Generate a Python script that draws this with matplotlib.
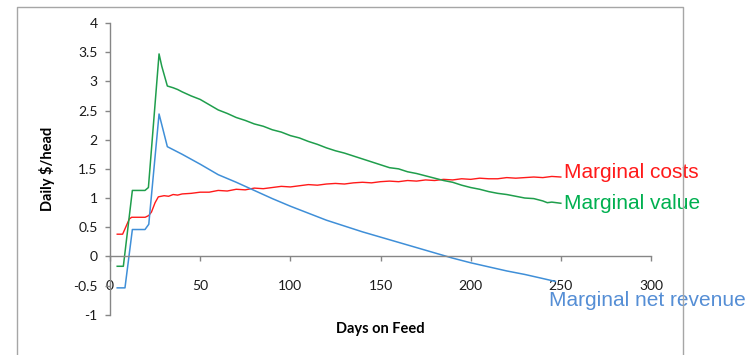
import matplotlib
matplotlib.use('Agg')
import matplotlib.pyplot as plt
from matplotlib.lines import Line2D
from matplotlib.ticker import FuncFormatter

plt.rcParams['font.family'] = ['Lato', 'DejaVu Sans']

# ── data ─────────────────────────────────────────────────────────────────────
cost_days = [4, 7, 10.7, 12, 19.5, 21.5, 23, 25, 26.8, 30, 32.5, 35, 37.5, 40, 45, 50,
             55, 60, 65, 70, 75, 80, 85, 90, 95, 100, 105, 110, 115, 120, 125,
             130, 135, 140, 145, 150, 155, 160, 165, 170, 175, 180, 185, 190,
             195, 200, 205, 210, 215, 220, 225, 230, 235, 240, 245, 250]
cost_vals = [0.38, 0.38, 0.64, 0.67, 0.67, 0.70, 0.76, 0.92, 1.02, 1.04, 1.03, 1.06, 1.05,
             1.07, 1.08, 1.10, 1.10, 1.13, 1.12, 1.15, 1.14, 1.17, 1.16, 1.18, 1.20,
             1.19, 1.21, 1.23, 1.22, 1.24, 1.25, 1.24, 1.26, 1.27, 1.26, 1.28,
             1.29, 1.28, 1.30, 1.29, 1.31, 1.30, 1.32, 1.31, 1.33, 1.32, 1.34,
             1.33, 1.33, 1.35, 1.34, 1.35, 1.36, 1.35, 1.37, 1.36]

value_days = [4, 7.4, 12.4, 19.4, 21.3, 27.2, 28.7, 31.8, 35, 37.5, 40, 45, 50, 55,
              60, 65, 70, 75, 80, 85, 90, 95, 100, 105, 110, 115, 120, 125, 130,
              135, 140, 145, 150, 155, 160, 165, 170, 175, 180, 185, 190, 195,
              200, 205, 210, 215, 220, 225, 230, 235, 240, 242.5, 245, 250]
value_vals = [-0.17, -0.17, 1.13, 1.13, 1.18, 3.47, 3.26, 2.92, 2.89, 2.86, 2.82, 2.75,
              2.69, 2.60, 2.51, 2.45, 2.38, 2.33, 2.27, 2.23, 2.17, 2.13, 2.07,
              2.03, 1.97, 1.92, 1.86, 1.81, 1.77, 1.72, 1.67, 1.62, 1.57, 1.52,
              1.50, 1.45, 1.42, 1.38, 1.34, 1.30, 1.27, 1.22, 1.18, 1.15, 1.11,
              1.08, 1.06, 1.03, 1.00, 0.99, 0.95, 0.92, 0.93, 0.91]

net_days = [4, 8.3, 12.4, 19.4, 21.5, 27.2, 31.8, 40, 50, 60, 70, 80, 90, 100,
            110, 120, 130, 140, 150, 160, 170, 180, 190, 200, 210, 220, 230,
            240, 247]
net_vals = [-0.54, -0.54, 0.46, 0.46, 0.55, 2.44, 1.88, 1.75, 1.58, 1.40, 1.27, 1.13,
            0.99, 0.86, 0.74, 0.62, 0.52, 0.42, 0.33, 0.24, 0.15, 0.06, -0.03,
            -0.11, -0.18, -0.25, -0.31, -0.38, -0.43]

y_ticks = [-1, -0.5, 0, 0.5, 1, 1.5, 2, 2.5, 3, 3.5, 4]
x_ticks = [0, 50, 100, 150, 200, 250, 300]

RED = '#ff1a1a'
GREEN_LINE = '#1f9e4c'
GREEN_TXT = '#00b050'
BLUE_LINE = '#3f8fd8'
BLUE_TXT = '#558ed5'
AXIS_GREY = '#868686'

fig = plt.figure(figsize=(7.55, 3.55), dpi=100)
ax = fig.add_axes([110 / 755, 1 - 314.7 / 355, 541 / 755, (314.7 - 23) / 355])

ax.plot(cost_days, cost_vals, color=RED, lw=1.0)
ax.plot(value_days, value_vals, color=GREEN_LINE, lw=1.1)
ax.plot(net_days, net_vals, color=BLUE_LINE, lw=1.1)

ax.set_xlim(0, 300)
ax.set_ylim(-1, 4)
ax.set_xticks(x_ticks)
ax.set_yticks(y_ticks)
ax.yaxis.set_major_formatter(FuncFormatter(lambda v, _: f'{v:g}'))

ax.spines[['top', 'right']].set_visible(False)
ax.spines['bottom'].set_position(('data', 0))
for s in ('left', 'bottom'):
    ax.spines[s].set_color(AXIS_GREY)
    ax.spines[s].set_linewidth(1.0)
ax.tick_params(axis='both', color=AXIS_GREY, length=3.8, width=1.0,
               labelsize=10, labelcolor='#1a1a1a')
ax.tick_params(axis='x', pad=13)
ax.tick_params(axis='y', pad=5)

# series labels at the line ends
ax.text(251.7, 1.44, 'Marginal costs', color=RED, fontsize=15,
        family='Liberation Sans', va='center', ha='left', clip_on=False)
ax.text(251.7, 0.906, 'Marginal value', color=GREEN_TXT, fontsize=15,
        family='Liberation Sans', va='center', ha='left', clip_on=False)
ax.text(243.2, -0.75, 'Marginal net revenue', color=BLUE_TXT, fontsize=15,
        family='Liberation Sans', va='center', ha='left', clip_on=False)

fig.text(47 / 755, 1 - 168.5 / 355, 'Daily $/head', rotation=90, fontsize=10.5,
         fontweight='bold', ha='center', va='center')
fig.text(380 / 755, 1 - 328.5 / 355, 'Days on Feed', fontsize=10.5,
         fontweight='bold', ha='center', va='center')

# grey chart frame (bottom edge falls outside the picture)
fx0, fx1, fy1 = 16.5 / 755, 682.5 / 755, 1 - 6.5 / 355
fig.add_artist(Line2D([fx0, fx0, fx1, fx1], [0, fy1, fy1, 0],
                      transform=fig.transFigure, color='#a6a6a6', lw=1.0))

fig.savefig('out.png', dpi=100)
